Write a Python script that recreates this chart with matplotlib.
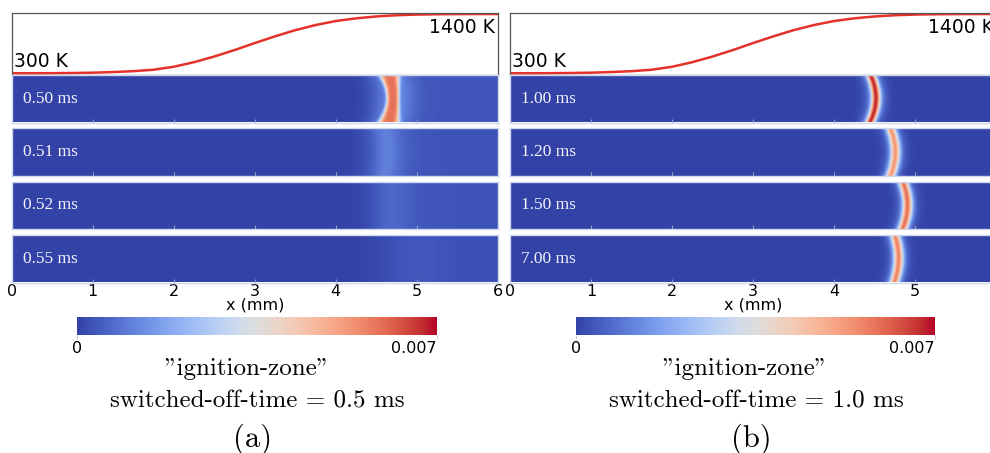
import numpy as np
import matplotlib
matplotlib.use("Agg")
import matplotlib.pyplot as plt
from matplotlib import cm, colors

# temperature profile along x (mm -> K)
t_x = [0, 0.25, 0.5, 0.75, 1.0, 1.25, 1.5, 1.75, 2.0, 2.25, 2.5, 2.75, 3.0,
       3.25, 3.5, 3.75, 4.0, 4.25, 4.5, 4.75, 5.0, 5.25, 5.5, 5.75, 6.0]
t_K = [300, 300, 301, 304, 310, 322, 338, 365, 420, 505, 610, 730, 860,
       985, 1100, 1195, 1270, 1320, 1355, 1378, 1390, 1396, 1399, 1400, 1400]

# ignition-zone panels, one list per column (a), (b)
times = [["0.50 ms", "0.51 ms", "0.52 ms", "0.55 ms"],
         ["1.00 ms", "1.20 ms", "1.50 ms", "7.00 ms"]]
front_x = [[4.655, 4.60, 4.66, 4.85], [4.45, 4.70, 4.85, 4.75]]    # front at panel edges (mm)
front_bend = [[0.05, 0.03, 0.0, 0.0], [0.07, 0.06, 0.06, 0.05]]    # extra shift at centre (mm)
front_sigma = [[0.13, 0.16, 0.2, 0.35], [0.055, 0.06, 0.06, 0.06]]
front_pinch = [[0.4, 0.0, 0.0, 0.0], [0.0, 0.0, 0.0, 0.0]]         # thinner at centre
front_power = [[4, 2, 2, 2], [2, 2, 2, 2]]
front_peak = [[0.0046, 0.0005, 0.0003, 0.0002], [0.0056, 0.0043, 0.0049, 0.0046]]
halo_amp = [[0.0012, 0.0005, 0.0003, 0.0001], [0.0012, 0.0010, 0.0010, 0.0010]]
halo_sigma = [[0.25, 0.30, 0.35, 0.5], [0.13, 0.13, 0.13, 0.13]]
bg_right = [[0.00035, 0.0003, 0.0003, 0.00025], [0.0, 0.0, 0.0, 0.0]]

vmax = 0.007
captions = ["switched-off-time = 0.5 ms", "switched-off-time = 1.0 ms"]
letters = ["(a)", "(b)"]

W, H = 990, 453
fig = plt.figure(figsize=(W / 100, H / 100), dpi=100)


def add_ax(left, top, w, h):
    return fig.add_axes([left / W, 1 - (top + h) / H, w / W, h / H])


# coolwarm, a bit duller at the blue end like the scanned figure
base = matplotlib.colormaps["coolwarm"](np.linspace(0, 1, 256))
shade = np.clip(0.87 + 0.13 * np.linspace(0, 1, 256) / 0.45, 0, 1)
base[:, :3] *= shade[:, None]
cmap = colors.ListedColormap(base)
norm = colors.Normalize(0, vmax)

col_left = [11.7, 510.0]
col_w = 486.0
panel_top = [75.0, 128.3, 181.7, 235.0]
panel_h = 47.5

xs = np.linspace(0, 6, 700)
ys = np.linspace(-1, 1, 60)
X, Y = np.meshgrid(xs, ys)

for c in range(2):
    L = col_left[c]

    # temperature profile on top
    ta = add_ax(L, 12.7, col_w, 62.3)
    ta.plot(t_x, t_K, color="#e5312b", lw=1.8)
    ta.set_xlim(0, 6)
    ta.set_ylim(267, 1425)
    ta.set_xticks([])
    ta.set_yticks([])
    for s in ta.spines.values():
        s.set_color("#555555")
        s.set_linewidth(0.9)
    ta.text(0.03, 410, "300 K", fontsize=13.5, va="baseline", ha="left")
    ta.text(5.97, 1330, "1400 K", fontsize=13.5, va="top", ha="right")

    for i in range(4):
        ax = add_ax(L, panel_top[i], col_w, panel_h)
        mid = 1 - Y ** 2
        xf = front_x[c][i] + front_bend[c][i] * mid
        sig = front_sigma[c][i] * (1 - front_pinch[c][i] * mid)
        p = front_power[c][i]
        field = (front_peak[c][i] * np.exp(-np.abs((X - xf) / sig) ** p)
                 + halo_amp[c][i] * np.exp(-((X - xf) / halo_sigma[c][i]) ** 2)
                 + bg_right[c][i] * 0.5 * (1 + np.tanh((X - front_x[c][i] - 0.15) / 0.15)))
        ax.imshow(field, extent=[0, 6, -1, 1], origin="lower", aspect="auto",
                  cmap=cmap, norm=norm, interpolation="bilinear")
        ax.set_xlim(0, 6)
        ax.set_ylim(-1, 1)
        ax.set_yticks([])
        ax.set_xticks(range(7))
        ax.tick_params(axis="x", direction="in", length=3, color="#8f9ccc",
                       width=0.8, labelsize=11.5, pad=1)
        for s in ax.spines.values():
            s.set_color("#cdd8ee")
            s.set_linewidth(1.0)
        ax.text(0.14, 0.0, times[c][i], family="Liberation Serif", fontsize=12.5,
                color="#f2f2f8", va="center", ha="left")
        if i < 3:
            ax.set_xticklabels([])
        else:
            ax.set_xlabel("x (mm)", fontsize=11.5, labelpad=-1)

    # colour bar
    cax = add_ax(L + 65.6, 317.3, 359.4, 17.7)
    sm = cm.ScalarMappable(norm=norm, cmap=cmap)
    cb = fig.colorbar(sm, cax=cax, orientation="horizontal", ticks=[0, vmax])
    cb.outline.set_visible(False)
    cax.set_xticklabels(["0", "0.007"])
    cax.tick_params(length=3, color="#cccccc", labelsize=11.5, pad=1)
    cax.get_xticklabels()[1].set_ha("right")

    cx = L + col_w / 2
    fig.text((cx - 8) / W, 1 - 375 / H, '"ignition-zone"', family="cmr10",
             fontsize=18, ha="center", va="baseline")
    fig.text((cx + 3) / W, 1 - 408 / H, captions[c], family="cmr10",
             fontsize=18, ha="center", va="baseline")
    fig.text((cx - 2) / W, 1 - 439 / H, letters[c], family="cmr10",
             fontsize=22, ha="center", va="center")

fig.savefig("out.png", dpi=100)
